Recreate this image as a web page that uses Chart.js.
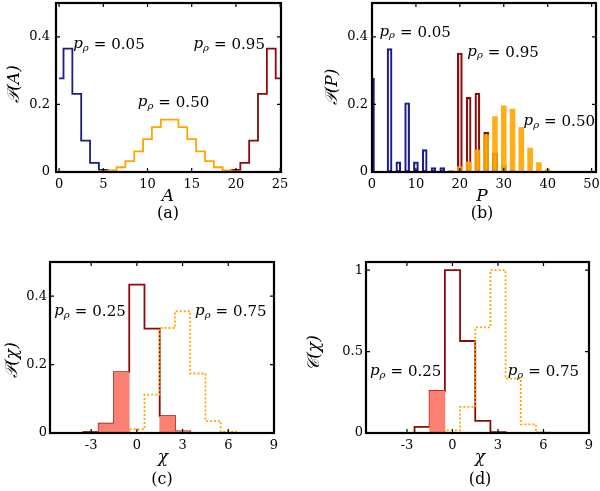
<!DOCTYPE html>
<html>
<head>
<meta charset="utf-8">
<script src="https://cdn.jsdelivr.net/npm/chart.js@4.4.1/dist/chart.umd.min.js"></script>
<style>
html,body{margin:0;padding:0;background:#fff;}
#wrap{position:relative;width:600px;height:491px;overflow:hidden;}
canvas{position:absolute;}
</style>
</head>
<body>
<div id="wrap">
<canvas id="pa" width="300" height="245" style="left:0;top:0"></canvas>
<canvas id="pb" width="300" height="245" style="left:300px;top:0"></canvas>
<canvas id="pc" width="300" height="246" style="left:0;top:245px"></canvas>
<canvas id="pd" width="300" height="246" style="left:300px;top:245px"></canvas>
</div>
<script>
// (a) P(A), A = 0..25
const areaA = [0,1,2,3,4,5,6,7,8,9,10,11,12,13,14,15,16,17,18,19,20,21,22,23,24,25];
const areaP05 = [0.277,0.365,0.231,0.093,0.027,0.006,0.001,0,0,0,0,0,0,0,0,0,0,0,0,0,0,0,0,0,0,0];
const areaP50 = [0,0,0,0,0,0.002,0.005,0.014,0.032,0.061,0.097,0.133,0.155,0.155,0.133,0.097,0.061,0.032,0.014,0.005,0.002,0,0,0,0,0];
const areaP95 = [0,0,0,0,0,0,0,0,0,0,0,0,0,0,0,0,0,0,0,0.001,0.006,0.027,0.093,0.231,0.365,0.277];
const ticksAx = [0,5,10,15,20,25];
const ticksAy = [0,0.2,0.4];

// (b) P(P)
const perP05 = [0,4,6,8,10,12,14,16];
const perV05 = [0.278,0.365,0.030,0.205,0.030,0.066,0.013,0.013];
const perP95 = [20,22,24,26,28,30,32,34];
const perV95 = [0.352,0.221,0.233,0.118,0.057,0.019,0.005,0.001];
const perP50 = [16,18,20,22,24,26,28,30,32,34,36,38,40];
const perV50 = [0.002,0.005,0.016,0.030,0.065,0.110,0.164,0.196,0.186,0.132,0.071,0.028,0.009];
const ticksBx = [0,10,20,30,40,50];
const ticksBy = [0,0.2,0.4];

// (c) P(chi) and (d) C(chi), chi = -6..10
const chi = [-6,-5,-4,-3,-2,-1,0,1,2,3,4,5,6,7,8,9,10];
const probChi25 = [0,0,0,0.003,0.027,0.178,0.434,0.305,0.049,0.005,0,0,0,0,0,0,0];
const probChi75 = [0,0,0,0,0,0,0.011,0.112,0.307,0.356,0.174,0.035,0.004,0,0,0,0];
const probShade = [0,0,0,0.003,0.027,0.178,0,0,0.049,0.005,0,0,0,0,0,0,0];
const corrChi25 = [0,0,0,0,0.037,0.258,1.0,0.565,0.075,0.005,0,0,0,0,0,0,0];
const corrChi75 = [0,0,0,0,0,0,0.016,0.16,0.648,1.0,0.334,0.053,0.003,0,0,0,0];
const corrShade = [0,0,0,0,0,0.258,0,0,0,0,0,0,0,0,0,0,0];
const ticksCx = [-3,0,3,6,9];
const ticksCy = [0,0.2,0.4];
const ticksDy = [0,0.5,1];

const NAVY = '#1c1c8a', DRED = '#8b0a0a', ORANGE = '#ffa500', SALMON = '#fa8072';
const SERIF = '"DejaVu Serif", serif';

function pts(xs, ys){ return xs.map((x,i)=>({x:x, y:ys[i]})); }

function stepLine(xs, ys, color, dash){
  return {type:'line', data:pts(xs,ys), borderColor:color, borderWidth:1.8,
    borderDash:dash||[], stepped:'middle', pointRadius:0, fill:false, clip:1};
}

const deco = {
  id:'deco',
  afterDatasetsDraw(chart, args, o){
    const ctx = chart.ctx, a = chart.chartArea;
    const xs = chart.scales.x, ys = chart.scales.y;
    ctx.save();
    ctx.strokeStyle = '#000';
    ctx.lineWidth = 1.2;
    ctx.beginPath();
    o.xt.forEach(v=>{
      const p = xs.getPixelForValue(v);
      ctx.moveTo(p,a.bottom); ctx.lineTo(p,a.bottom-4);
      ctx.moveTo(p,a.top); ctx.lineTo(p,a.top+4);
    });
    o.yt.forEach(v=>{
      const p = ys.getPixelForValue(v);
      ctx.moveTo(a.left,p); ctx.lineTo(a.left+4,p);
      ctx.moveTo(a.right,p); ctx.lineTo(a.right-4,p);
    });
    ctx.stroke();
    ctx.lineWidth = 2.2;
    ctx.strokeRect(a.left, a.top, a.right-a.left, a.bottom-a.top);

    ctx.fillStyle = '#000';
    ctx.textBaseline = 'middle';
    // p_rho annotations
    o.notes.forEach(n=>{
      let x = xs.getPixelForValue(n.x), y = ys.getPixelForValue(n.y);
      ctx.textAlign = 'left';
      ctx.font = 'italic 15px ' + SERIF;
      ctx.fillText('p', x, y-1); x += ctx.measureText('p').width;
      ctx.font = 'italic 10px ' + SERIF;
      ctx.fillText('\u03c1', x, y+3); x += ctx.measureText('\u03c1').width + 5;
      ctx.font = '15px ' + SERIF;
      ctx.fillText('=', x, y); x += ctx.measureText('=').width + 5;
      ctx.fillText(n.t, x, y);
    });
    // axis titles and caption
    ctx.textAlign = 'center';
    ctx.font = 'italic 17px ' + SERIF;
    ctx.fillText(o.xTitle, o.xTitlePos[0], o.xTitlePos[1]);
    ctx.save();
    ctx.translate(o.yTitlePos[0], o.yTitlePos[1]);
    ctx.rotate(-Math.PI/2);
    ctx.fillText(o.yTitle, 0, 0);
    ctx.restore();
    ctx.font = '16px ' + SERIF;
    ctx.fillText(o.caption, o.capPos[0], o.capPos[1]);
    ctx.restore();
  }
};

function panel(id, type, datasets, p){
  const W = 300, H = p.h;
  new Chart(document.getElementById(id), {
    type: type,
    data: {datasets: datasets},
    options: {
      responsive:false, animation:false, devicePixelRatio:1,
      layout:{padding:{left:0, top:p.area[1], right:W-p.area[2], bottom:0}},
      plugins:{legend:{display:false}, tooltip:{enabled:false},
        deco:{xt:p.xt, yt:p.yt, notes:p.notes, xTitle:p.xTitle, xTitlePos:p.xTitlePos,
              yTitle:p.yTitle, yTitlePos:p.yTitlePos, caption:p.caption, capPos:p.capPos}},
      scales:{
        x:{type:'linear', min:p.xr[0], max:p.xr[1], offset:false,
           grid:{display:false, drawTicks:false, offset:false}, border:{display:false},
           ticks:{color:'#000', font:{family:SERIF, size:13}, padding:5, autoSkip:false, maxRotation:0,
                  callback: v => String(v)},
           afterBuildTicks: s=>{ s.ticks = p.xt.map(v=>({value:v})); },
           afterFit: s=>{ s.height = H - p.area[3]; s.paddingLeft = 0; s.paddingRight = 0; }},
        y:{type:'linear', min:p.yr[0], max:p.yr[1],
           grid:{display:false, drawTicks:false}, border:{display:false},
           ticks:{color:'#000', font:{family:SERIF, size:13}, padding:p.ypad, autoSkip:false,
                  callback: v => String(v)},
           afterBuildTicks: s=>{ s.ticks = p.yt.map(v=>({value:v})); },
           afterFit: s=>{ s.width = p.area[0]; s.paddingTop = 0; s.paddingBottom = 0; }}
      }
    },
    plugins:[deco]
  });
}

// (a)
panel('pa', 'line', [
  stepLine(areaA, areaP50, ORANGE),
  stepLine(areaA, areaP05, NAVY),
  stepLine(areaA, areaP95, DRED)
], {h:245, area:[56,3,281,172], xr:[-0.35,25.1], yr:[0,0.5], xt:ticksAx, yt:ticksAy, ypad:6,
  notes:[{x:1.6,y:0.376,t:'0.05'},{x:15.2,y:0.376,t:'0.95'},{x:8.9,y:0.204,t:'0.50'}],
  xTitle:'A', xTitlePos:[168,197], yTitle:'\ud835\udcab(A)', yTitlePos:[15,84], caption:'(a)', capPos:[168,214]});

// (b)
function bars(xs, ys, fill, edge){
  return {type:'bar', data:pts(xs,ys), backgroundColor:fill, borderColor:edge,
    borderWidth:edge ? 1.5 : 0, barThickness:5, grouped:false, clip:0, borderSkipped:false};
}
panel('pb', 'bar', [
  bars(perP50, perV50, 'rgba(255,165,0,0.9)', null),
  bars(perP95, perV95, 'rgba(200,40,40,0.08)', DRED),
  bars(perP05, perV05, 'rgba(0,0,0,0)', NAVY)
], {h:245, area:[72,3,296,172], xr:[0,51], yr:[0,0.5], xt:ticksBx, yt:ticksBy, ypad:4,
  notes:[{x:1.7,y:0.412,t:'0.05'},{x:21.7,y:0.353,t:'0.95'},{x:34.5,y:0.148,t:'0.50'}],
  xTitle:'P', xTitlePos:[182,197], yTitle:'\ud835\udcab(P)', yTitlePos:[33,87], caption:'(b)', capPos:[182,214]});

// (c)
function shade(xs, ys){
  return {type:'bar', data:pts(xs,ys), backgroundColor:SALMON, borderWidth:0,
    barPercentage:1, categoryPercentage:1, grouped:false, clip:0};
}
panel('pc', 'line', [
  shade(chi, probShade),
  stepLine(chi, probChi75, ORANGE, [2,2]),
  stepLine(chi, probChi25, DRED)
], {h:246, area:[50,17,274,188], xr:[-5.7,9], yr:[0,0.5], xt:ticksCx, yt:ticksCy, ypad:3,
  notes:[{x:-5.42,y:0.353,t:'0.25'},{x:3.82,y:0.353,t:'0.75'}],
  xTitle:'\u03c7', xTitlePos:[163,213], yTitle:'\ud835\udcab(\u03c7)', yTitlePos:[13,115], caption:'(c)', capPos:[162,235]});

// (d)
panel('pd', 'line', [
  shade(chi, corrShade),
  stepLine(chi, corrChi75, ORANGE, [2,2]),
  stepLine(chi, corrChi25, DRED)
], {h:246, area:[66,17,289,188], xr:[-5.7,9], yr:[0,1.05], xt:ticksCx, yt:ticksDy, ypad:3,
  notes:[{x:-5.44,y:0.371,t:'0.25'},{x:3.64,y:0.371,t:'0.75'}],
  xTitle:'\u03c7', xTitlePos:[180,213], yTitle:'\ud835\udc9e(\u03c7)', yTitlePos:[15,108], caption:'(d)', capPos:[180,235]});
</script>
</body>
</html>
